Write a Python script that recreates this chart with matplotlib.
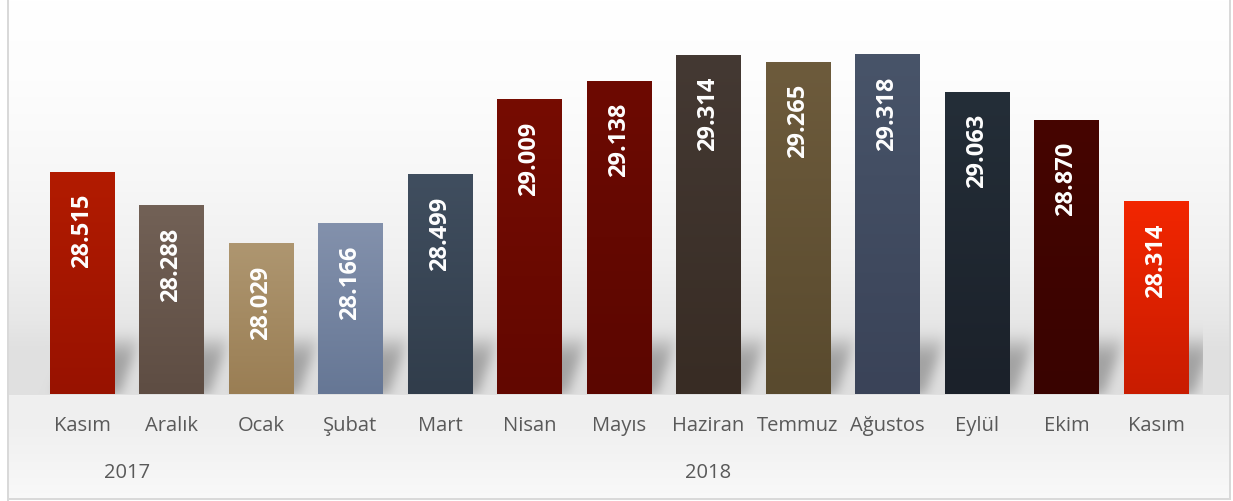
import numpy as np
import matplotlib
matplotlib.use("Agg")
import matplotlib.pyplot as plt
from matplotlib.colors import to_rgb

# ---------------- data ----------------
months = ["Kasım", "Aralık", "Ocak", "Şubat", "Mart", "Nisan", "Mayıs",
          "Haziran", "Temmuz", "Ağustos", "Eylül", "Ekim", "Kasım"]
values = [28.515, 28.288, 28.029, 28.166, 28.499, 29.009, 29.138,
          29.314, 29.265, 29.318, 29.063, 28.870, 28.314]
years = ["2017", "2018"]
year_first_idx = [0, 2]
year_last_idx = [1, 12]

# bar gradient colours (top, bottom)
top_colors = ["#b21b00", "#726156", "#ae9670", "#8391ac", "#404e5f", "#760c02",
              "#6d0a02", "#443933", "#6d5b3c", "#485469", "#242e38", "#460500", "#f22600"]
bot_colors = ["#981200", "#5e4d43", "#9a7e54", "#667795", "#313d4b", "#620700",
              "#5b0600", "#382c24", "#594a2e", "#3a4358", "#1b212a", "#390300", "#c91c00"]

FONT = ["Open Sans", "DejaVu Sans"]
W, H = 1233, 501
fig = plt.figure(figsize=(W / 100, H / 100), dpi=100)
ax = fig.add_axes([37.25 / W, 107 / H, 1163.5 / W, 366.5 / H])
ymin, ymax = 27.0, 29.5
ax.set_xlim(-0.5, len(values) - 0.5)
ax.set_ylim(ymin, ymax)
bw = 0.72

# ---------------- background image (gradient + shadows) ----------------
rows = np.arange(H)
anchors_r = [0, 80, 180, 260, 320, 345, 394, 395, 420, 470, 500]
anchors_v = [255, 253, 247, 240, 231, 225, 224, 240, 239, 245, 249]
prof = np.interp(rows, anchors_r, anchors_v)
bg = np.tile(prof[:, None], (1, W)).astype(float)

fig.canvas.draw()
base_disp = ax.transData.transform([[0, ymin]])[0]
rb = int(round(H - base_disp[1]))
ax_left = ax.transData.transform([[-0.5, ymin]])[0][0]
ax_right = ax.transData.transform([[len(values) - 0.5, ymin]])[0][0]

M = np.zeros((H, W))
Hs = 62
for i, v in enumerate(values):
    (x0p, _), (x1p, _) = ax.transData.transform([[i - bw / 2, ymin], [i + bw / 2, ymin]])
    for h in range(0, Hs):
        r = rb - h
        w = 1.0 if h <= 38 else max(0.0, 1 - (h - 38) / (Hs - 38))
        shift = 6 + 0.35 * h
        c0 = int(x0p + shift)
        c1 = int(x1p + shift)
        M[r, max(c0, 0):min(c1, W)] = np.maximum(M[r, max(c0, 0):min(c1, W)], w)

sig = 6.0
k = np.arange(-20, 21)
ker = np.exp(-k ** 2 / (2 * sig ** 2))
ker /= ker.sum()
M = np.apply_along_axis(lambda a: np.convolve(a, ker, mode="same"), 1, M)
M = np.apply_along_axis(lambda a: np.convolve(a, ker, mode="same"), 0, M)
M[rb:, :] = 0
M[:, int(ax_right) + 3:] = 0
M[:, :int(ax_left)] = 0
bg = bg * (1 - 0.28 * M)

# white outside the chart border + border lines
bg[:, :7] = 255
bg[:, 1231:] = 255
bg[500:, :] = 255
bg[:, 7:9] = 217
bg[:499, 1229:1231] = 217
bg[498:500, 7:1231] = 217

rgb = np.clip(np.stack([bg, bg, bg], axis=-1) / 255.0, 0, 1)
bgax = fig.add_axes([0, 0, 1, 1], zorder=-1)
bgax.imshow(rgb, extent=(0, W, H, 0), interpolation="nearest", aspect="auto")
bgax.set_xlim(0, W)
bgax.set_ylim(H, 0)
bgax.axis("off")
ax.patch.set_visible(False)

# ---------------- bars ----------------
x = np.arange(len(values))
bars = ax.bar(x, np.array(values) - ymin, bottom=ymin, width=bw, color=top_colors, linewidth=0, zorder=2)
for b, ct, cb in zip(bars, top_colors, bot_colors):
    grad = np.linspace(0, 1, 64)[:, None, None]
    img = (1 - grad) * np.array(to_rgb(ct)) + grad * np.array(to_rgb(cb))
    bx, by = b.get_x(), b.get_y()
    im = ax.imshow(img, extent=(bx, bx + b.get_width(), by, by + b.get_height()),
                   aspect="auto", interpolation="bilinear", zorder=3, origin="upper")
    im.set_clip_path(b)

ax.set_xlim(-0.5, len(values) - 0.5)
ax.set_ylim(ymin, ymax)

for i, v in enumerate(values):
    ax.annotate(f"{v:.3f}", xy=(i, v), xytext=(0, -16), textcoords="offset points",
                rotation=90, ha="center", va="top", color="white", fontweight="bold",
                fontsize=17, family=FONT, zorder=5)

# ---------------- axes / labels ----------------
ax.set_xticks(x)
ax.set_xticklabels(months, family=FONT, fontsize=14.5, color="#595959")
ax.tick_params(axis="x", length=0, pad=16)
ax.set_yticks([])
for s in ax.spines.values():
    s.set_visible(False)

for yl, a, b in zip(years, year_first_idx, year_last_idx):
    ax.annotate(yl, xy=((a + b) / 2, 0), xycoords=("data", "axes fraction"),
                xytext=(0, -60.5), textcoords="offset points", ha="center", va="baseline",
                family=FONT, fontsize=14.5, color="#595959")

fig.savefig("out.png", dpi=100)
